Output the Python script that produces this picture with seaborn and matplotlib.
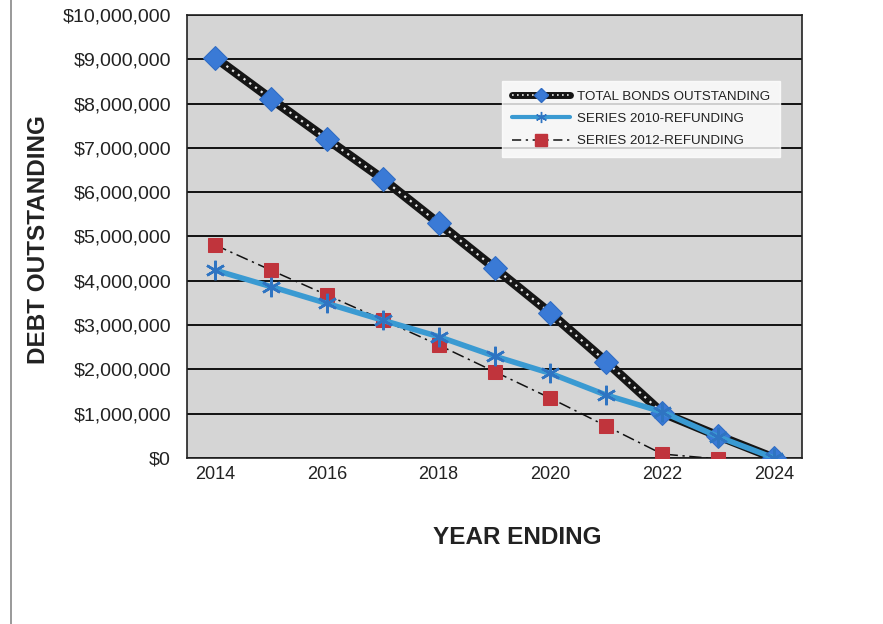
import matplotlib
matplotlib.use("Agg")
import matplotlib.pyplot as plt
import matplotlib.ticker as mticker
from matplotlib.lines import Line2D
import seaborn as sns

# === Daten ===
years = [2014, 2015, 2016, 2017, 2018, 2019, 2020, 2021, 2022, 2023, 2024]
total_bonds = [9040000, 8110000, 7200000, 6300000, 5300000, 4290000, 3270000,
               2170000, 1020000, 500000, 0]
series_2010 = [4240000, 3870000, 3490000, 3110000, 2740000, 2300000, 1910000,
               1420000, 1040000, 480000, 0]
years_2012 = [2014, 2015, 2016, 2017, 2018, 2019, 2020, 2021, 2022, 2023]
series_2012 = [4810000, 4240000, 3680000, 3120000, 2550000, 1950000, 1350000,
               720000, 90000, -20000]

label_total = "TOTAL BONDS OUTSTANDING"
label_2010 = "SERIES 2010-REFUNDING"
label_2012 = "SERIES 2012-REFUNDING"

sns.set_style("white")
plt.rcParams["font.family"] = ["Liberation Sans", "DejaVu Sans"]

fig = plt.figure(figsize=(8.83, 6.24), dpi=100)
ax = fig.add_axes([0.2118, 0.266, 0.6965, 0.710])
ax.set_facecolor("#d5d5d5")

# Serie 2012 (Strich-Punkt, rote Quadrate)
sns.lineplot(x=years_2012, y=series_2012, ax=ax, color="#111111", lw=1.1,
             linestyle=(0, (8, 3, 1.5, 3)), marker="s", markersize=10,
             markerfacecolor="#c0343c", markeredgecolor="#c0343c", zorder=3)

# Gesamt (dicke schwarze Linie mit weißen Punkten, blaue Rauten)
sns.lineplot(x=years, y=total_bonds, ax=ax, color="#151515", lw=6.5, zorder=4)
sns.lineplot(x=years, y=total_bonds, ax=ax, color="#e8e8e8", lw=1.6,
             linestyle=(0, (1, 2.2)), zorder=5)
sns.lineplot(x=years, y=total_bonds, ax=ax, color="none", lw=0, marker="D",
             markersize=12, markerfacecolor="#3a7ad6", markeredgecolor="#2f6cc4",
             zorder=6)

# Serie 2010 (hellblau, Sterne)
sns.lineplot(x=years, y=series_2010, ax=ax, color="#3a9ad2", lw=4, marker=(6, 2, 0),
             markersize=14, markeredgecolor="#2f74c2", markeredgewidth=1.8,
             zorder=7)

# Achsen
ax.set_xlim(2013.5, 2024.5)
ax.set_ylim(0, 10000000)
ax.set_xticks(years[::2])
ax.set_xticks([y - 0.5 for y in years] + [2024.5], minor=True)
ax.yaxis.set_major_locator(mticker.MultipleLocator(1000000))
ax.yaxis.set_major_formatter(mticker.FuncFormatter(lambda v, p: f"${v:,.0f}"))
ax.tick_params(axis="x", which="major", length=0, labelsize=13, pad=6, colors="#222222")
ax.tick_params(axis="x", which="minor", length=5, width=1, direction="out", color="#222222")
ax.tick_params(axis="y", length=11, width=1, direction="inout", labelsize=14,
               pad=6, colors="#222222")
ax.grid(axis="y", color="#111111", lw=1.4)
ax.grid(axis="x", visible=False)
ax.set_axisbelow(True)
for s in ax.spines.values():
    s.set_color("#222222")
    s.set_linewidth(1.2)

ax.set_ylabel("DEBT OUTSTANDING", fontsize=17.5, fontweight="bold", color="#222222")
ax.yaxis.set_label_coords(-0.223, 0.492)
ax.set_xlabel("YEAR ENDING", fontsize=17.5, fontweight="bold", color="#222222")
ax.xaxis.set_label_coords(0.537, -0.153)

# Legende
h_total = (Line2D([], [], color="#151515", lw=5),
           Line2D([], [], color="#e8e8e8", lw=1.2, linestyle=(0, (1, 2))),
           Line2D([], [], color="none", marker="D", markersize=7,
                  markerfacecolor="#3a7ad6", markeredgecolor="#2f6cc4"))
h_2010 = Line2D([], [], color="#3a9ad2", lw=3, marker=(6, 2, 0), markersize=8,
                markeredgecolor="#2f74c2")
h_2012 = Line2D([], [], color="#111111", lw=1.1, linestyle=(0, (6, 3, 1.5, 3)),
                marker="s", markersize=8, markerfacecolor="#c0343c",
                markeredgecolor="#c0343c")
leg = ax.legend([h_total, h_2010, h_2012], [label_total, label_2010, label_2012],
                loc="upper left", bbox_to_anchor=(0.502, 0.866), fontsize=9.6,
                handlelength=4.4, handletextpad=0.5, labelspacing=0.75,
                frameon=True, fancybox=False, borderpad=0.7)
leg.get_frame().set_facecolor("white")
leg.get_frame().set_edgecolor("white")
for t in leg.get_texts():
    t.set_color("#222222")

# Rahmenlinie links (Scan)
fig.add_artist(Line2D([0.012, 0.012], [0.0, 1.0], transform=fig.transFigure,
                      color="#888888", lw=1.2))

fig.savefig("out.png", dpi=100)
